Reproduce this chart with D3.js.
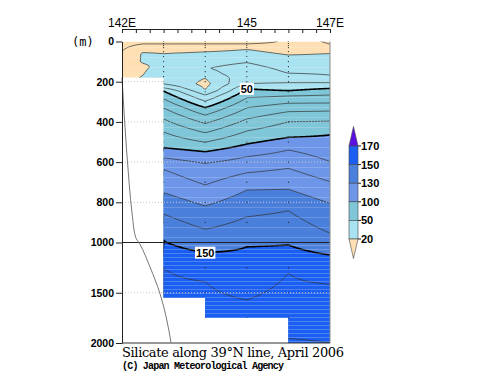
<!DOCTYPE html>
<html lang="en">
<head>
<meta charset="utf-8">
<title>Silicate along 39N line</title>
<script src="https://d3js.org/d3.v7.min.js"></script>
<style>
  body { margin: 0; background: #fff; }
  svg { display: block; }
  text { font-family: "Liberation Sans", Arial, sans-serif; fill: #000; }
</style>
</head>
<body>
<script>
// ---- data: stations (deg E) and silicate profiles [depth m, value]
const lons = [142, 142.5, 143, 144, 145, 146, 147];
const si142  = [[0,6],[50,10],[100,13],[180,16],[400,20]];
const si1425 = [[0,7],[12,10],[45,18],[60,21],[100,21],[125,18],[160,19.5],[200,22],[400,30]];
const si143  = [[0,7],[12,10],[59,20],[125,24],[211,30],[230,40],[246,50],[285,60],[330,70],[385,80],[450,90],[528,100],[578,110],[636,120],[752,130],[858,140],[988,150],[1257,160],[1550,164]];
const si144  = [[0,7],[12,10],[51,20],[100,26.5],[133,29.5],[160,26],[183,20],[210,17],[241,20],[266,30],[297,40],[329,50],[366,60],[408,70],[454,80],[501,90],[548,100],[606,110],[714,120],[818,130],[934,140],[1101,150],[1390,160],[1750,163]];
const si145  = [[0,7],[12,10],[39,20],[105,30],[140,35],[183,37],[211,40],[236,50],[280,60],[330,70],[385,80],[445,90],[510,100],[573,110],[653,120],[739,130],[872,140],[1042,150],[1572,160],[1750,161]];
const si146  = [[0,11],[10,11.5],[20,12.5],[67,20],[158,30],[205,40],[245,50],[271,60],[307,70],[349,80],[399,90],[477,100],[540,110],[631,120],[735,130],[842,140],[1025,150],[1303,160],[1600,163],[1955,160],[2000,159.5]];
const si147  = [[0,9.7],[14,10],[59,20],[167,30],[205,40],[233,50],[266,60],[306,70],[346,80],[396,90],[465,100],[598,110],[697,120],[805,130],[954,140],[1124,150],[1416,160],[1700,162],[2000,160]];
const profiles = [si142, si1425, si143, si144, si145, si146, si147];

// sea bottom of the data (per station interval) and the slope line
const bottomLon = [142, 143, 144, 146, 147];
const bottomDepth = [180, 1550, 1750, 2000];
const bathyLon = [142.0, 142.11, 142.17, 142.25, 142.33, 142.42, 142.67, 142.91, 143.06, 143.18];
const bathyDepth = [180, 540, 700, 870, 975, 1010, 1241, 1505, 1738, 2000];

const shadeLevels = [20, 50, 100, 130, 150, 170];
const shadeColors = ["#fee0b4", "#a9e2f0", "#7fc6d9", "#6d96e9", "#4a7fdb", "#1a5ff2", "#5a10e0"];
const lineLevels = d3.range(10, 170, 10);
const thickLevels = [50, 100, 150];
const labelLevels = [50, 150];
const labelLons = [145.0, 144.0];

const stationLons = [143, 144, 145, 146];
const stationBottom = [1550, 1750, 1750, 2000];
const obsDepths = [0,10,20,30,50,75,100,125,150,175,200,250,300,400,500,600,700,800,900,1000,1250,1500,1750,2000];

const depthTicks = [0, 200, 400, 600, 800, 1000, 1500, 2000];
const gridDepths = [200, 400, 600, 800, 1500];
const lonTicks = d3.range(142, 147.001, 1 / 3);
const lonLabelVals = [142, 145, 147];
const lonLabelText = ["142E", "145", "147E"];

// faint raster rows in the shading (upper part / lower part)
const rowsUpper = d3.range(25, 1000, 50);
const rowsLower = d3.range(1020, 2000, 40);

const W = 500, H = 387;
const svg = d3.select("body").append("svg").attr("width", W).attr("height", H);
svg.append("rect").attr("width", W).attr("height", H).attr("fill", "white");

const x = d3.scaleLinear().domain([142, 147]).range([122, 330]);
const y = d3.scaleLinear().domain([0, 1000, 2000]).range([41.5, 242.5, 343]);

// piecewise linear in depth at each station, linear between stations
const profFns = profiles.map(p => d3.scaleLinear()
  .domain(p.map(d => d[0])).range(p.map(d => d[1])).clamp(true));

function field(lon, dep) {
  const i = Math.max(0, Math.min(lons.length - 2, d3.bisectRight(lons, lon) - 1));
  const t = Math.max(0, Math.min(1, (lon - lons[i]) / (lons[i + 1] - lons[i])));
  const a = profFns[i](dep), b = profFns[i + 1](dep);
  return a + t * (b - a);
}

// sample on the pixel grid
const gx0 = 118, gx1 = 334, gy0 = 37, gy1 = 347;
const nx = gx1 - gx0 + 1, ny = gy1 - gy0 + 1;
const xc = x.copy().clamp(true), yc = y.copy().clamp(true);
const grid = new Float64Array(nx * ny);
for (let j = 0; j < ny; j++) {
  const dep = yc.invert(gy0 + j);
  for (let i = 0; i < nx; i++) grid[j * nx + i] = field(xc.invert(gx0 + i), dep);
}

// data region
const region = [[142, 0], [147, 0]];
for (let k = bottomDepth.length - 1; k >= 0; k--) {
  region.push([bottomLon[k + 1], bottomDepth[k]]);
  region.push([bottomLon[k], bottomDepth[k]]);
}
const regionPath = d3.line().x(d => x(d[0])).y(d => y(d[1]))(region) + "Z";
svg.append("clipPath").attr("id", "data").append("path").attr("d", regionPath);

const gData = svg.append("g").attr("clip-path", "url(#data)");
gData.append("path").attr("d", regionPath).attr("fill", shadeColors[0]);

const geo = d3.geoPath();
const gridG = gData.append("g").attr("transform", `translate(${gx0 - 0.5},${gy0 - 0.5})`);
gridG.selectAll("path.shade")
  .data(d3.contours().size([nx, ny]).thresholds(shadeLevels)(grid))
  .join("path").attr("class", "shade")
  .attr("d", geo).attr("fill", (d, i) => shadeColors[i + 1]);

// light raster rows over the shading
gData.append("g").selectAll("line").data(rowsUpper.concat(rowsLower)).join("line")
  .attr("x1", x(142)).attr("x2", x(147))
  .attr("y1", d => Math.round(y(d)) + 0.5).attr("y2", d => Math.round(y(d)) + 0.5)
  .attr("stroke", "#fff").attr("stroke-opacity", d => d > 1000 ? 0.22 : 0.18);

// dotted depth grid
svg.append("g").selectAll("line").data(gridDepths).join("line")
  .attr("x1", x(142)).attr("x2", x(147))
  .attr("y1", d => y(d)).attr("y2", d => y(d))
  .attr("stroke", "#c8c8c8").attr("stroke-width", 1).attr("stroke-dasharray", "1,2");

// contour lines
gridG.selectAll("path.iso")
  .data(d3.contours().size([nx, ny]).thresholds(lineLevels)(grid))
  .join("path").attr("class", "iso")
  .attr("d", geo).attr("fill", "none")
  .attr("stroke", d => thickLevels.includes(d.value) ? "#000" : "#333")
  .attr("stroke-width", d => thickLevels.includes(d.value) ? 1.6 : 0.7);

// observation points
stationLons.forEach((lon, k) => {
  gData.append("g").selectAll("circle")
    .data(obsDepths.filter(d => d <= stationBottom[k]))
    .join("circle")
    .attr("cx", x(lon)).attr("cy", d => y(d)).attr("r", 0.6).attr("fill", "#222");
});

// contour labels: find where the level crosses at the label longitude
labelLevels.forEach((lev, k) => {
  const i = Math.round(x(labelLons[k]) - gx0);
  let yy = null;
  for (let j = Math.round(y(0) - gy0); j < ny - 1; j++) {
    const a = grid[j * nx + i], b = grid[(j + 1) * nx + i];
    if ((a - lev) * (b - lev) <= 0 && a !== b) { yy = gy0 + j + (lev - a) / (b - a); break; }
  }
  if (yy === null) return;
  const lbl = svg.append("g").attr("transform", `translate(${x(labelLons[k])},${yy})`);
  const t = lbl.append("text").attr("text-anchor", "middle").attr("dy", "0.36em")
    .attr("font-size", 11).attr("font-weight", "bold").text(lev);
  const bb = t.node().getBBox();
  lbl.insert("rect", "text").attr("x", bb.x - 1).attr("y", bb.y).attr("width", bb.width + 2)
    .attr("height", bb.height).attr("fill", "white");
});

// 1000 m break line, frame
svg.append("line").attr("x1", x(142)).attr("x2", x(147)).attr("y1", y(1000)).attr("y2", y(1000))
  .attr("stroke", "#222").attr("stroke-width", 1.2);
svg.append("line").attr("x1", x(147)).attr("x2", x(147)).attr("y1", y(0)).attr("y2", y(2000))
  .attr("stroke", "#888").attr("stroke-width", 1);
svg.append("line").attr("x1", x(142)).attr("x2", x(147)).attr("y1", y(2000)).attr("y2", y(2000))
  .attr("stroke", "#333").attr("stroke-width", 1);

// slope line
svg.append("path")
  .datum(d3.zip(bathyLon, bathyDepth))
  .attr("d", d3.line().x(d => x(d[0])).y(d => y(d[1])).curve(d3.curveMonotoneY))
  .attr("fill", "none").attr("stroke", "#777").attr("stroke-width", 1);

// left depth axis
const yAxis = svg.append("g").attr("transform", `translate(${x(142)},0)`)
  .call(d3.axisLeft(y).tickValues(depthTicks).tickFormat(d3.format("d"))
    .tickSize(6).tickPadding(2).tickSizeOuter(0));
yAxis.selectAll("text").attr("font-size", 10.5).attr("font-weight", "bold")
  .style("font-family", "Liberation Sans, Arial, sans-serif");
yAxis.selectAll("path, line").attr("stroke", "#222");
svg.append("text").attr("x", 72).attr("y", 46).attr("font-size", 12)
  .style("font-family", "DejaVu Sans Mono, monospace").text("(m)");

// top longitude axis
const lonAxis = svg.append("g").attr("transform", "translate(0,29)")
  .call(d3.axisBottom(x).tickValues(lonTicks).tickSize(4).tickSizeOuter(0).tickFormat(""));
lonAxis.selectAll("path, line").attr("stroke", "#222");
svg.append("g").selectAll("text").data(lonLabelVals).join("text")
  .attr("x", d => x(d)).attr("y", 27).attr("text-anchor", "middle")
  .attr("font-size", 12).text((d, i) => lonLabelText[i]);

// colour bar
const cbX = 349, cbW = 9;
const cbLevels = shadeLevels.slice().reverse();
const cb = d3.scalePoint().domain(cbLevels).range([146, 239]);
const step = cb.step();
const cbG = svg.append("g");
cbG.append("path")
  .attr("d", `M${cbX},${cb(170)}L${cbX + cbW / 2},${cb(170) - step * 1.05}L${cbX + cbW},${cb(170)}Z`)
  .attr("fill", shadeColors[6]).attr("stroke", "#444").attr("stroke-width", 0.6);
cbG.selectAll("rect").data(cbLevels.slice(0, -1)).join("rect")
  .attr("x", cbX).attr("y", d => cb(d)).attr("width", cbW).attr("height", step)
  .attr("fill", (d, i) => shadeColors[5 - i]).attr("stroke", "#444").attr("stroke-width", 0.6);
cbG.append("path")
  .attr("d", `M${cbX},${cb(20)}L${cbX + cbW / 2},${cb(20) + step * 1.05}L${cbX + cbW},${cb(20)}Z`)
  .attr("fill", shadeColors[0]).attr("stroke", "#444").attr("stroke-width", 0.6);
cbG.selectAll("line").data(cbLevels).join("line")
  .attr("x1", cbX + cbW).attr("x2", cbX + cbW + 3).attr("y1", d => cb(d)).attr("y2", d => cb(d))
  .attr("stroke", "#222");
cbG.selectAll("text").data(cbLevels).join("text")
  .attr("x", cbX + cbW + 3).attr("y", d => cb(d)).attr("dy", "0.36em")
  .attr("font-size", 11).attr("font-weight", "bold").text(d => d);

// titles
svg.append("text").attr("x", 122).attr("y", 357).attr("font-size", 13)
  .style("font-family", "DejaVu Serif, serif").attr("textLength", 222)
  .text("Silicate along 39°N line, April 2006");
svg.append("text").attr("x", 122).attr("y", 369).attr("font-size", 10).attr("font-weight", "bold")
  .style("font-family", "Liberation Mono, monospace").attr("textLength", 162)
  .text("(C) Japan Meteorological Agency");
</script>
</body>
</html>
